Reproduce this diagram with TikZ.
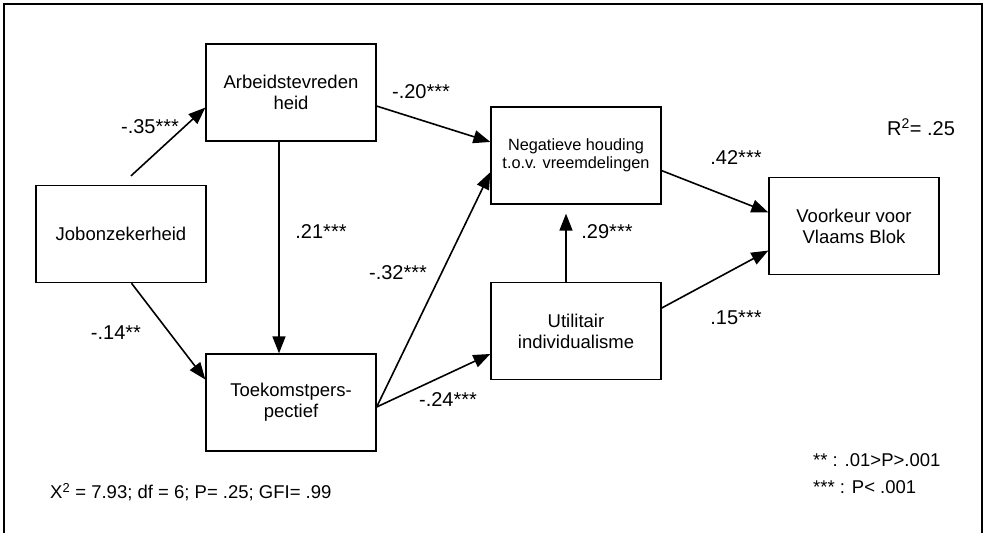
\documentclass[tikz,border=0pt]{standalone}
\usepackage{fontspec}
\setmainfont{Liberation Sans}
\usetikzlibrary{arrows.meta}
\usetikzlibrary{positioning}
\usetikzlibrary{calc}
\tikzset{box/.style = {draw, line width=1.3pt, minimum width=170pt, minimum height=97pt,
                       align=center, inner sep=0pt,
                       font=\fontsize{18.5}{21}\selectfont},
         arr/.style = {line width=1.6pt, -{Triangle[length=17pt, width=13pt]}},
         coef/.style = {inner sep=0pt, font=\fontsize{20}{22}\selectfont},
         note/.style = {inner sep=0pt, anchor=west, font=\fontsize{18.5}{21}\selectfont}}

\begin{document}
\begin{tikzpicture}[x=1pt, y=-1pt]
    \useasboundingbox (0, 0) rectangle (984, 533);

    \draw [line width=2.5pt] (4, 533) -- (4, 4) -- (982, 4) -- (982, 533);

    \node [box] (arbeid) at (291, 92.5) {Arbeidstevreden\\heid};
    \node [box] (jobon) at (121, 234) {Jobonzekerheid};
    \node [box] (toekomst) at (291, 402.5) {Toekomstpers-\\pectief};
    \node [box, font=\fontsize{16.3}{18}\selectfont] (negatief) at (576, 155.5) {Negatieve houding\\t.o.v. vreemdelingen};
    \node [box] (utilitair) at (576, 331) {Utilitair\\individualisme};
    \node [box] (voorkeur) at (854, 226) {Voorkeur voor\\Vlaams Blok};

    \coordinate (jtop) at ($(jobon.north) + (10, -9)$);

    \draw [arr] (jtop) -- (arbeid.190);
    \draw [arr] (jobon.-78) -- (toekomst.165);
    \draw [arr] ([xshift=-12pt]arbeid.south) -- ([xshift=-12pt]toekomst.north);
    \draw [arr] (arbeid.-9) -- (negatief.171);
    \draw [arr] (toekomst.-3) -- (negatief.191);
    \draw [arr] (toekomst.-3) -- (utilitair.195);
    \draw [arr] ([xshift=-10pt]utilitair.north) -- ([xshift=-10pt, yshift=-9pt]negatief.south);
    \draw [arr] (negatief.-10) -- (voorkeur.171);
    \draw [arr] (utilitair.15) -- (voorkeur.196);

    \node [coef] (c35) at (150, 127) {-.35***};
    \node [coef] (c14) at (116, 333) {-.14**};
    \node [coef] (c21) at (321, 232) {.21***};
    \node [coef] (c20) at (421, 92) {-.20***};
    \node [coef] (c32) at (398, 273) {-.32***};
    \node [coef] (c24) at (448, 400) {-.24***};
    \node [coef] (c29) at (607, 232) {.29***};
    \node [coef] (c42) at (736, 158) {.42***};
    \node [coef] (c15) at (736, 318) {.15***};
    \node [coef] (rsq) at (921, 127) {R\textsuperscript{2}= .25};

    \node [note] (fit) at (50, 492) {X\textsuperscript{2} = 7.93; df = 6; P= .25; GFI= .99};
    \node [note] (sig2) at (813, 460) {** : .01>P>.001};
    \node [note] (sig3) at (813, 487) {*** : P< .001};
  \end{tikzpicture}
\end{document}
